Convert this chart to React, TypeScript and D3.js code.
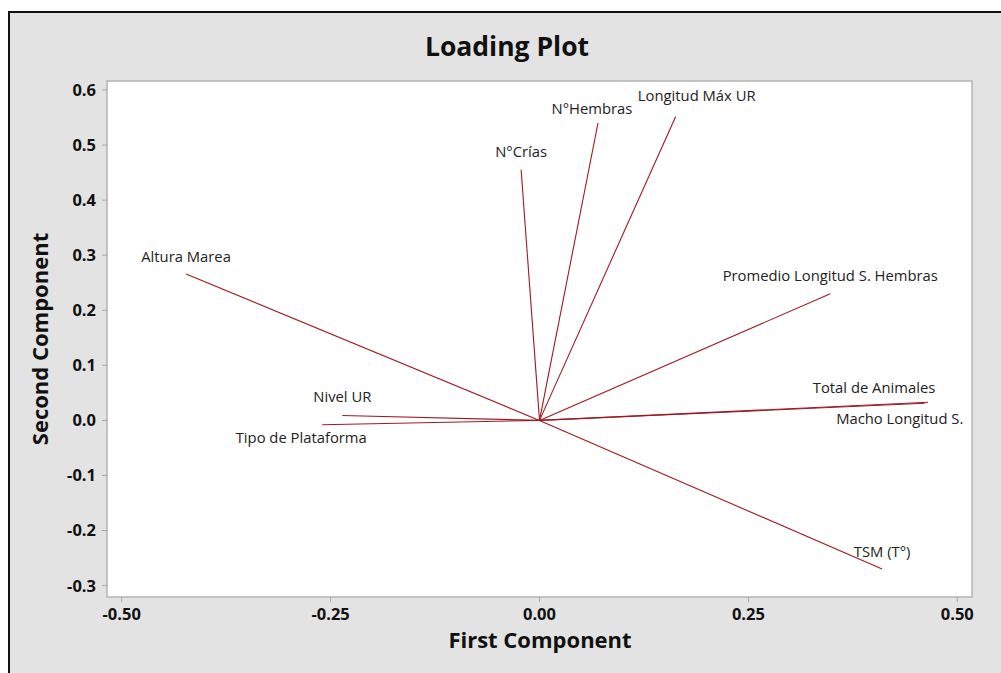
import React from "react";
import * as d3 from "d3";

const variables = [
  "Altura Marea",
  "Nivel UR",
  "Tipo de Plataforma",
  "N°Crías",
  "N°Hembras",
  "Longitud Máx UR",
  "Promedio Longitud S. Hembras",
  "Total de Animales",
  "Macho Longitud S.",
  "TSM (T°)",
];
const firstComponent = [-0.423, -0.236, -0.26, -0.022, 0.07, 0.163, 0.348, 0.465, 0.461, 0.41];
const secondComponent = [0.266, 0.009, -0.008, 0.455, 0.54, 0.552, 0.23, 0.033, 0.031, -0.27];

const xTicks = [-0.5, -0.25, 0, 0.25, 0.5];
const yTicks = [0.6, 0.5, 0.4, 0.3, 0.2, 0.1, 0.0, -0.1, -0.2, -0.3];

// label placement offsets (px) relative to each vector tip
const labelOffsets: [number, number][] = [
  [0, -12],
  [0, -13],
  [-21, 18],
  [0, -13],
  [-6, -9],
  [21, -15],
  [0, -13],
  [-54, -9],
  [-25, 21],
  [0, -12],
];

const W = 1001;
const H = 673;
const plot = { left: 107, top: 81, right: 972, bottom: 597 };
const FONT = "'Open Sans', 'Noto Sans', sans-serif";
const LINE = "#9e1a22";

export default function App() {
  const x = d3.scaleLinear().domain([-0.5176, 0.5176]).range([plot.left, plot.right]);
  const y = d3.scaleLinear().domain([0.6163, -0.3207]).range([plot.top, plot.bottom]);
  const x0 = x(0);
  const y0 = y(0);

  return (
    <svg
      width={W}
      height={H}
      style={{ position: "absolute", left: 0, top: 0, background: "#fff" }}
      fontFamily={FONT}
    >
      <rect x={9} y={12} width={W} height={H} fill="#e3e3e3" stroke="#111" strokeWidth={2} />
      <rect
        x={plot.left}
        y={plot.top}
        width={plot.right - plot.left}
        height={plot.bottom - plot.top}
        fill="#fff"
        stroke="#b4b4b4"
        strokeWidth={1.5}
      />
      <text x={507} y={56} textAnchor="middle" fontSize={26.5} fontWeight="bold" fill="#111">
        Loading Plot
      </text>
      {yTicks.map((t) => (
        <g key={"y" + t}>
          <line x1={plot.left - 5} x2={plot.left} y1={y(t)} y2={y(t)} stroke="#a8a8a8" strokeWidth={1} />
          <text
            x={plot.left - 11}
            y={y(t)}
            dy="0.36em"
            textAnchor="end"
            fontSize={16.5}
            fontWeight="bold"
            fill="#111"
          >
            {t.toFixed(1)}
          </text>
        </g>
      ))}
      {xTicks.map((t) => (
        <g key={"x" + t}>
          <line x1={x(t)} x2={x(t)} y1={plot.bottom} y2={plot.bottom + 5} stroke="#a8a8a8" strokeWidth={1} />
          <text
            x={x(t)}
            y={plot.bottom + 23}
            textAnchor="middle"
            fontSize={16.5}
            fontWeight="bold"
            fill="#111"
          >
            {t.toFixed(2)}
          </text>
        </g>
      ))}
      <text x={540} y={648} textAnchor="middle" fontSize={22} fontWeight="bold" fill="#111">
        First Component
      </text>
      <text
        transform={`translate(48,339) rotate(-90)`}
        textAnchor="middle"
        fontSize={22}
        fontWeight="bold"
        fill="#111"
      >
        Second Component
      </text>
      {variables.map((v, i) => (
        <line
          key={"l" + v}
          x1={x0}
          y1={y0}
          x2={x(firstComponent[i])}
          y2={y(secondComponent[i])}
          stroke={LINE}
          strokeWidth={1.1}
        />
      ))}
      {variables.map((v, i) => (
        <text
          key={"t" + v}
          x={x(firstComponent[i]) + labelOffsets[i][0]}
          y={y(secondComponent[i]) + labelOffsets[i][1]}
          textAnchor="middle"
          fontSize={14.8}
          fill="#222"
        >
          {v}
        </text>
      ))}
    </svg>
  );
}
